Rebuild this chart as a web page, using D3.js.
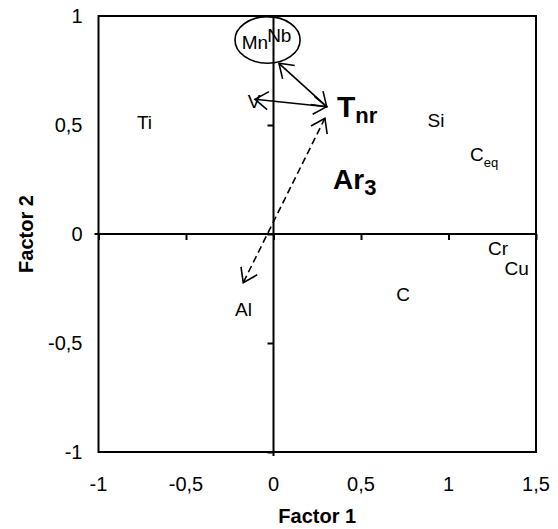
<!DOCTYPE html>
<html><head><meta charset="utf-8">
<script src="https://cdn.jsdelivr.net/npm/d3@7"></script>
<style>body{margin:0;background:#fff}svg{display:block}text{font-family:"Liberation Sans",Arial,sans-serif}</style>
</head><body>
<script>
// Data
const xTicks = [-1, -0.5, 0, 0.5, 1, 1.5];
const yTicks = [-1, -0.5, 0, 0.5, 1];
const varNames = ["Ti", "Si", "C", "Cr", "Cu", "C", "Al", "Mn", "Nb", "V"];
const varSubs  = ["", "", "eq", "", "", "", "", "", "", ""];
const varX = [-0.737, 0.929, 1.203, 1.283, 1.389, 0.74, -0.171, -0.106, 0.033, -0.111];
const varY = [0.516, 0.521, 0.367, -0.064, -0.156, -0.275, -0.344, 0.881, 0.911, 0.610];
const bigNames = ["T", "Ar"];
const bigSubs = ["nr", "3"];
const bigX = [0.363, 0.34];
const bigY = [0.537, 0.206];
// arrows
const arrowX1 = [0.304, 0.304, 0.294];
const arrowY1 = [0.584, 0.584, 0.531];
const arrowX2 = [0.031, -0.106, -0.173];
const arrowY2 = [0.783, 0.618, -0.223];
const arrowDashed = [false, false, true];
const ellipseC = [-0.034, 0.89];
const ellipseR = [0.186, 0.107];

const W = 558, H = 529;
const m = {l: 98.5, r: 22, t: 16, b: 77};
const svg = d3.select("body").append("svg").attr("width", W).attr("height", H);
const x = d3.scaleLinear().domain([-1, 1.5]).range([m.l, W - m.r]);
const y = d3.scaleLinear().domain([-1, 1]).range([H - m.b, m.t]);

// frame
svg.append("rect").attr("x", x(-1)).attr("y", y(1)).attr("width", x(1.5) - x(-1)).attr("height", y(-1) - y(1))
  .attr("fill", "none").attr("stroke", "#000").attr("stroke-width", 2);

// zero axes with ticks
const xAxis = d3.axisBottom(x).tickValues(xTicks).tickSize(6).tickFormat("");
const yAxis = d3.axisLeft(y).tickValues(yTicks).tickSize(6).tickFormat("");
const gx = svg.append("g").attr("transform", `translate(0,${y(0)})`).call(xAxis);
const gy = svg.append("g").attr("transform", `translate(${x(0)},0)`).call(yAxis);
[gx, gy].forEach(g => {
  g.select(".domain").remove();
  g.selectAll(".tick line").attr("stroke-width", 2);
});
svg.append("line").attr("x1", x(-1) - 4).attr("x2", x(1.5)).attr("y1", y(0)).attr("y2", y(0)).attr("stroke", "#000").attr("stroke-width", 2);
svg.append("line").attr("x1", x(0)).attr("x2", x(0)).attr("y1", y(1)).attr("y2", y(-1) + 4).attr("stroke", "#000").attr("stroke-width", 2);

// tick labels
svg.append("g").selectAll("text").data(xTicks).join("text")
  .attr("x", d => x(d)).attr("y", y(-1) + 39).attr("text-anchor", "middle")
  .attr("font-size", 20).text(d => String(d).replace(".", ","));
svg.append("g").selectAll("text").data(yTicks).join("text")
  .attr("x", x(-1) - 16).attr("y", d => y(d) + 7).attr("text-anchor", "end")
  .attr("font-size", 20).text(d => String(d).replace(".", ","));

// axis titles (centred on plot area)
svg.append("text").attr("x", (x(-1) + x(1.5)) / 2).attr("y", 523).attr("text-anchor", "middle")
  .attr("font-size", 20).attr("font-weight", "bold").text("Factor 1");
svg.append("text").attr("transform", `translate(33,${(y(-1) + y(1)) / 2}) rotate(-90)`).attr("text-anchor", "middle")
  .attr("font-size", 20).attr("font-weight", "bold").text("Factor 2");

// ellipse
svg.append("ellipse").attr("cx", x(ellipseC[0])).attr("cy", y(ellipseC[1]))
  .attr("rx", x(ellipseR[0]) - x(0)).attr("ry", y(0) - y(ellipseR[1]))
  .attr("fill", "none").attr("stroke", "#000").attr("stroke-width", 1.6);

// variable labels
varNames.forEach((n, i) => {
  const t = svg.append("text").attr("x", x(varX[i])).attr("y", y(varY[i]) + 7)
    .attr("text-anchor", "middle").attr("font-size", 19).text(n);
  if (varSubs[i]) t.append("tspan").attr("font-size", 13).attr("dy", 6).text(varSubs[i]);
});

// big labels
bigNames.forEach((n, i) => {
  const t = svg.append("text").attr("x", x(bigX[i])).attr("y", y(bigY[i]))
    .attr("font-size", i === 0 ? 30 : 28).attr("font-weight", "bold").text(n);
  t.append("tspan").attr("font-size", 22).attr("dy", 6).text(bigSubs[i]);
});

// arrows
function head(px, py, fx, fy) {
  const a = Math.atan2(py - fy, px - fx), L = 16, s = 0.6;
  return `M${px + L * Math.cos(a + Math.PI - s)},${py + L * Math.sin(a + Math.PI - s)}L${px},${py}L${px + L * Math.cos(a + Math.PI + s)},${py + L * Math.sin(a + Math.PI + s)}`;
}
arrowX1.forEach((_, i) => {
  const x1 = x(arrowX1[i]), y1 = y(arrowY1[i]), x2 = x(arrowX2[i]), y2 = y(arrowY2[i]);
  svg.append("line").attr("x1", x1).attr("y1", y1).attr("x2", x2).attr("y2", y2)
    .attr("stroke", "#000").attr("stroke-width", 1.6)
    .attr("stroke-dasharray", arrowDashed[i] ? "7,4" : null);
  svg.append("path").attr("d", head(x1, y1, x2, y2) + head(x2, y2, x1, y1))
    .attr("fill", "none").attr("stroke", "#000").attr("stroke-width", 1.6);
});
</script>
</body></html>
